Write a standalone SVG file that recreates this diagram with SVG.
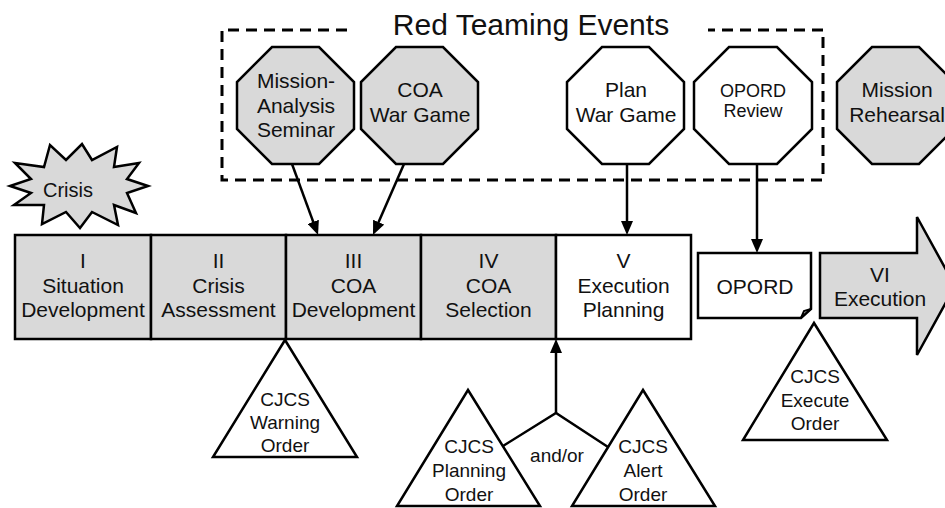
<svg xmlns="http://www.w3.org/2000/svg" width="945" height="508" viewBox="0 0 945 508">
<style>
text{font-family:"Liberation Sans",Arial,sans-serif;fill:#111;text-anchor:middle}
.t21{font-size:21px}
.t20{font-size:20px}
.t19{font-size:19px}
.t17{font-size:18px}
.gray{fill:#d9d9d9;stroke:#000;stroke-width:2.5}
.white{fill:#fff;stroke:#000;stroke-width:2.5}
.conn{fill:none;stroke:#000;stroke-width:2.5}
.dash{fill:none;stroke:#000;stroke-width:3;stroke-dasharray:11 7}
</style>
<defs>
<marker id="ah" viewBox="0 0 14 12" refX="4" refY="6" markerWidth="14" markerHeight="12" markerUnits="userSpaceOnUse" orient="auto">
<path d="M0,0 L14,6 L0,12 Z" fill="#000"/>
</marker>
</defs>
<rect width="945" height="508" fill="#fff"/>

<g id="red-teaming">
<path class="dash" d="M347,30 H222 V180 H823 V30 H708"/>
<text x="531" y="35" style="font-size:30px">Red Teaming Events</text>
</g>

<g id="oct-mission-analysis">
<polygon class="gray" points="272,47 319,47 354,82 354,129 319,164 272,164 237,129 237,82"/>
<text class="t21" x="296" y="88">Mission-</text>
<text class="t21" x="296" y="113">Analysis</text>
<text class="t21" x="296" y="137">Seminar</text>
</g>
<g id="oct-coa-wargame">
<polygon class="gray" points="396,47 443,47 478,82 478,129 443,164 396,164 361,129 361,82"/>
<text class="t21" x="420" y="97">COA</text>
<text class="t21" x="420" y="122">War Game</text>
</g>
<g id="oct-plan-wargame">
<polygon class="white" points="602,47 649,47 684,82 684,129 649,164 602,164 567,129 567,82"/>
<text class="t21" x="626" y="97">Plan</text>
<text class="t21" x="626" y="122">War Game</text>
</g>
<g id="oct-opord-review">
<polygon class="white" points="729,47 777,47 812,82 812,129 777,164 729,164 694,129 694,82"/>
<text class="t17" x="753" y="97">OPORD</text>
<text class="t17" x="753" y="117">Review</text>
</g>
<g id="oct-mission-rehearsal">
<polygon class="gray" points="872,47 919,47 954,82 954,129 919,164 872,164 837,129 837,82"/>
<text class="t21" x="897" y="97">Mission</text>
<text class="t21" x="897" y="122">Rehearsal</text>
</g>

<g id="crisis">
<polygon class="gray" points="148,186 127,179 139,163 114,167 117,147 92,160 82,144 66,160 50,145 44,167 15,163 31,179 10,186 31,193 14,205 44,205 42,224 66,212 80,228 92,212 118,225 114,205 136,213 127,193"/>
<text class="t20" x="68" y="197">Crisis</text>
</g>

<g id="phase-1">
<rect class="gray" x="15" y="235" width="136" height="104"/>
<text class="t21" x="83" y="268">I</text>
<text class="t21" x="83" y="293">Situation</text>
<text class="t21" x="83" y="317">Development</text>
</g>
<g id="phase-2">
<rect class="gray" x="151" y="235" width="135" height="104"/>
<text class="t21" x="218.5" y="268">II</text>
<text class="t21" x="218.5" y="293">Crisis</text>
<text class="t21" x="218.5" y="317">Assessment</text>
</g>
<g id="phase-3">
<rect class="gray" x="286" y="235" width="135" height="104"/>
<text class="t21" x="353.5" y="268">III</text>
<text class="t21" x="353.5" y="293">COA</text>
<text class="t21" x="353.5" y="317">Development</text>
</g>
<g id="phase-4">
<rect class="gray" x="421" y="235" width="135" height="104"/>
<text class="t21" x="488.5" y="268">IV</text>
<text class="t21" x="488.5" y="293">COA</text>
<text class="t21" x="488.5" y="317">Selection</text>
</g>
<g id="phase-5">
<rect class="white" x="556" y="235" width="135" height="104"/>
<text class="t21" x="623.5" y="268">V</text>
<text class="t21" x="623.5" y="293">Execution</text>
<text class="t21" x="623.5" y="317">Planning</text>
</g>

<g id="opord">
<path class="white" d="M698,253 H811 V309 L801,318 H698 Z"/>
<path class="conn" d="M801,318 L804,311 L811,309" style="stroke-width:2"/>
<text class="t21" x="755" y="294">OPORD</text>
</g>

<g id="phase-6">
<polygon class="gray" points="820,253 917,253 917,217 955,286 917,355 917,318 820,318"/>
<text class="t21" x="880" y="282">VI</text>
<text class="t21" x="880" y="306">Execution</text>
</g>

<g id="warning-order">
<polygon class="white" points="285,340 213,457 357,457"/>
<text class="t19" x="285" y="406">CJCS</text>
<text class="t19" x="285" y="429">Warning</text>
<text class="t19" x="285" y="452">Order</text>
</g>
<g id="planning-order">
<polygon class="white" points="468,390 397,506 540,506"/>
<text class="t19" x="469" y="453">CJCS</text>
<text class="t19" x="469" y="477">Planning</text>
<text class="t19" x="469" y="501">Order</text>
</g>
<g id="alert-order">
<polygon class="white" points="643,390 572,506 715,506"/>
<text class="t19" x="643" y="453">CJCS</text>
<text class="t19" x="643" y="477">Alert</text>
<text class="t19" x="643" y="501">Order</text>
</g>
<g id="execute-order">
<polygon class="white" points="814,323 743,440 887,440"/>
<text class="t19" x="815" y="383">CJCS</text>
<text class="t19" x="815" y="407">Execute</text>
<text class="t19" x="815" y="430">Order</text>
</g>

<g id="connectors">
<line class="conn" x1="292" y1="164" x2="314.6" y2="225.6" marker-end="url(#ah)"/>
<line class="conn" x1="404" y1="164" x2="377" y2="225.8" marker-end="url(#ah)"/>
<line class="conn" x1="627" y1="164" x2="627" y2="225" marker-end="url(#ah)"/>
<line class="conn" x1="757" y1="164" x2="757" y2="243" marker-end="url(#ah)"/>
<polyline class="conn" points="503,446 556,413 608,447"/>
<line class="conn" x1="556" y1="413" x2="556" y2="349" marker-end="url(#ah)"/>
<text class="t19" x="557" y="462">and/or</text>
</g>
</svg>
